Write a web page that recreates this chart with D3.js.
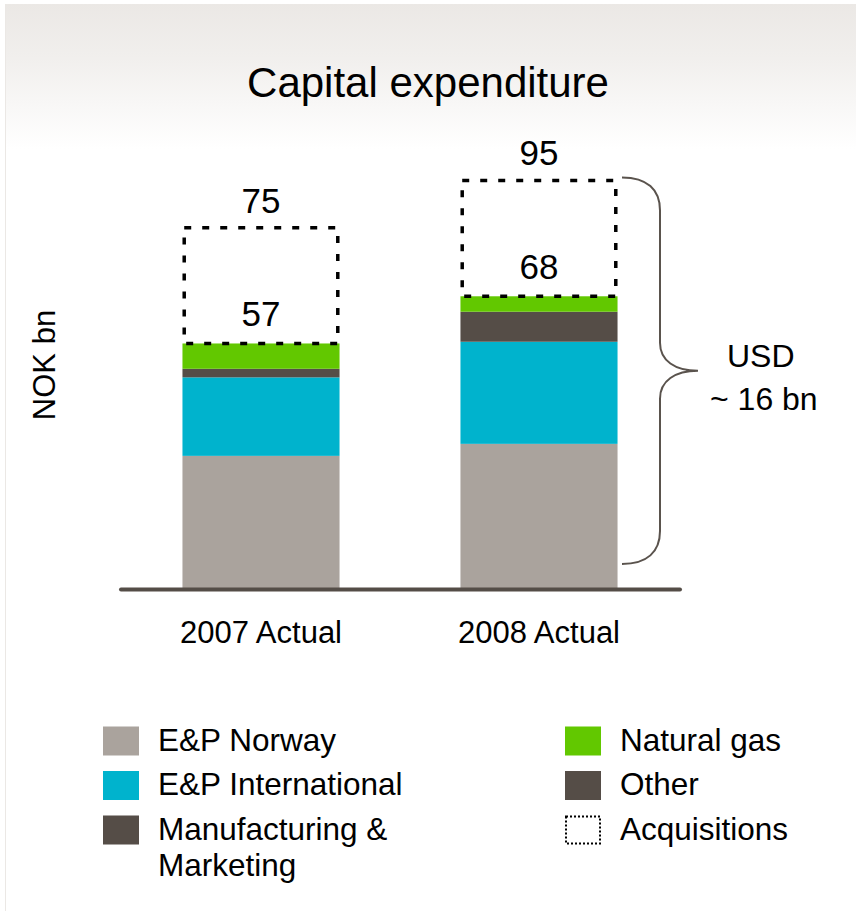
<!DOCTYPE html>
<html>
<head>
<meta charset="utf-8">
<script src="https://d3js.org/d3.v7.min.js"></script>
<style>
  body { margin: 0; background: #fff; }
  text { font-family: "Liberation Sans", Arial, sans-serif; fill: #000; }
</style>
</head>
<body>
<div class="canvas"></div>
<script>
// data
const categories = ['2007 Actual', '2008 Actual'];
const epNorway = [30.8, 33.6];
const epInternational = [18.3, 23.8];
const mmOther = [2.0, 7.0];
const naturalGas = [5.9, 3.6];
const acquisitions = [27, 27];
const subtotalLabels = ['57', '68'];
const totalLabels = ['75', '95'];
const legendLeft = ['E&P Norway', 'E&P International', 'Manufacturing &|Marketing'];
const legendRight = ['Natural gas', 'Other', 'Acquisitions'];

const colors = {
    norway: '#aaa39d',
    international: '#00b3cd',
    mm: '#554d47',
    gas: '#62c800'
};

const svg = d3.select('.canvas')
    .append('svg')
    .attr('width', 856)
    .attr('height', 911);

// panel background with gradient on top
const defs = svg.append('defs');
const grad = defs.append('linearGradient')
    .attr('id', 'bg')
    .attr('x1', 0).attr('y1', 0)
    .attr('x2', 0).attr('y2', 1);
grad.append('stop').attr('offset', '0%').attr('stop-color', '#ebe8e5');
grad.append('stop').attr('offset', '6%').attr('stop-color', '#f1efed');
grad.append('stop').attr('offset', '16%').attr('stop-color', '#ffffff');
grad.append('stop').attr('offset', '100%').attr('stop-color', '#ffffff');

svg.append('rect')
    .attr('x', 5).attr('y', 4)
    .attr('width', 851).attr('height', 907)
    .attr('fill', 'url(#bg)');
svg.append('line')
    .attr('x1', 5.5).attr('x2', 5.5)
    .attr('y1', 4).attr('y2', 911)
    .attr('stroke', '#ebe8e5');

svg.append('text')
    .attr('x', 428).attr('y', 97)
    .attr('text-anchor', 'middle')
    .attr('font-size', 42)
    .text('Capital expenditure');

// scales
const y = d3.scaleLinear()
    .domain([0, 100])
    .range([588, 159]);

const x = d3.scaleBand()
    .domain(categories)
    .range([122, 678])
    .paddingInner(0.435)
    .paddingOuter(0.2175);

const data = categories.map((c, i) => ({
    cat: c,
    norway: epNorway[i],
    international: epInternational[i],
    mm: mmOther[i],
    gas: naturalGas[i]
}));

const keys = ['norway', 'international', 'mm', 'gas'];
const stacked = d3.stack().keys(keys)(data);

const graph = svg.append('g');

graph.selectAll('g.layer')
    .data(stacked)
    .enter()
    .append('g')
    .attr('class', 'layer')
    .attr('fill', d => colors[d.key])
    .selectAll('rect')
    .data(d => d)
    .enter()
    .append('rect')
    .attr('x', d => x(d.data.cat))
    .attr('width', x.bandwidth())
    .attr('y', d => y(d[1]))
    .attr('height', d => y(d[0]) - y(d[1]));

// acquisitions (dotted boxes)
const totals = data.map(d => d.norway + d.international + d.mm + d.gas);

graph.selectAll('rect.acq')
    .data(categories)
    .enter()
    .append('rect')
    .attr('class', 'acq')
    .attr('x', d => x(d) + 1.75)
    .attr('width', x.bandwidth() - 3.5)
    .attr('y', (d, i) => y(totals[i] + acquisitions[i]))
    .attr('height', (d, i) => y(totals[i]) - y(totals[i] + acquisitions[i]))
    .attr('fill', 'none')
    .attr('stroke', '#000')
    .attr('stroke-width', 3.5)
    .attr('stroke-dasharray', '7,11');

// value labels
graph.selectAll('text.sub')
    .data(categories)
    .enter()
    .append('text')
    .attr('x', d => x(d) + x.bandwidth() / 2)
    .attr('y', (d, i) => y(totals[i]) - 17)
    .attr('text-anchor', 'middle')
    .attr('font-size', 35)
    .text((d, i) => subtotalLabels[i]);

graph.selectAll('text.tot')
    .data(categories)
    .enter()
    .append('text')
    .attr('x', d => x(d) + x.bandwidth() / 2)
    .attr('y', (d, i) => y(totals[i] + acquisitions[i]) - 15)
    .attr('text-anchor', 'middle')
    .attr('font-size', 35)
    .text((d, i) => totalLabels[i]);

// baseline
svg.append('line')
    .attr('x1', 121).attr('x2', 680)
    .attr('y1', y(0) + 1.5).attr('y2', y(0) + 1.5)
    .attr('stroke', '#544d47')
    .attr('stroke-width', 4)
    .attr('stroke-linecap', 'round');

// category labels
const xAxis = d3.axisBottom(x).tickSize(0).tickPadding(0);
const xAxisGroup = svg.append('g')
    .attr('transform', `translate(0, ${y(0)})`)
    .call(xAxis);
xAxisGroup.select('.domain').remove();
xAxisGroup.selectAll('text')
    .attr('dy', null)
    .attr('y', 55)
    .attr('font-size', 31)
    .attr('font-family', '"Liberation Sans", Arial, sans-serif')
    .attr('fill', '#000');

// y title
svg.append('text')
    .attr('transform', 'translate(55, 365) rotate(-90)')
    .attr('text-anchor', 'middle')
    .attr('font-size', 31)
    .text('NOK bn');

// brace next to 2008 bar
const bTop = y(totals[1] + acquisitions[1]) - 3;
const bBot = 564;
const bMid = (bTop + bBot) / 2;
const bx0 = 622, bx1 = 660, bx2 = 698;
svg.append('path')
    .attr('d', `M${bx0},${bTop} C${bx0 + 25},${bTop} ${bx1},${bTop + 12} ${bx1},${bTop + 33}
        L${bx1},${bMid - 28} C${bx1},${bMid - 10} ${bx1 + 15},${bMid} ${bx2},${bMid}
        C${bx1 + 15},${bMid} ${bx1},${bMid + 10} ${bx1},${bMid + 28}
        L${bx1},${bBot - 33} C${bx1},${bBot - 12} ${bx0 + 25},${bBot} ${bx0},${bBot}`)
    .attr('fill', 'none')
    .attr('stroke', '#5a534d')
    .attr('stroke-width', 2);

svg.append('text')
    .attr('x', 727).attr('y', 367)
    .attr('font-size', 32)
    .text('USD');
svg.append('text')
    .attr('x', 710).attr('y', 410)
    .attr('font-size', 32)
    .text('~ 16 bn');

// legend
const legend = svg.append('g');
const leftColors = [colors.norway, colors.international, colors.mm];
const rightColors = [colors.gas, colors.mm, null];

function legendColumn(items, cols, sx, tx) {
    items.forEach((label, i) => {
        const cy = 741 + i * 44.5;
        if (cols[i]) {
            legend.append('rect')
                .attr('x', sx).attr('y', cy - 14.5)
                .attr('width', 36).attr('height', 29)
                .attr('fill', cols[i]);
        } else {
            legend.append('rect')
                .attr('x', sx + 1).attr('y', cy - 13.5)
                .attr('width', 34).attr('height', 27)
                .attr('fill', 'none')
                .attr('stroke', '#000')
                .attr('stroke-width', 2)
                .attr('stroke-dasharray', '2,2');
        }
        const t = legend.append('text')
            .attr('x', tx).attr('y', cy + 9.5)
            .attr('font-size', 31.5);
        label.split('|').forEach((line, j) => {
            t.append('tspan')
                .attr('x', tx)
                .attr('dy', j === 0 ? 0 : 36)
                .text(line);
        });
    });
}

legendColumn(legendLeft, leftColors, 103, 158);
legendColumn(legendRight, rightColors, 565, 620);
</script>
</body>
</html>
